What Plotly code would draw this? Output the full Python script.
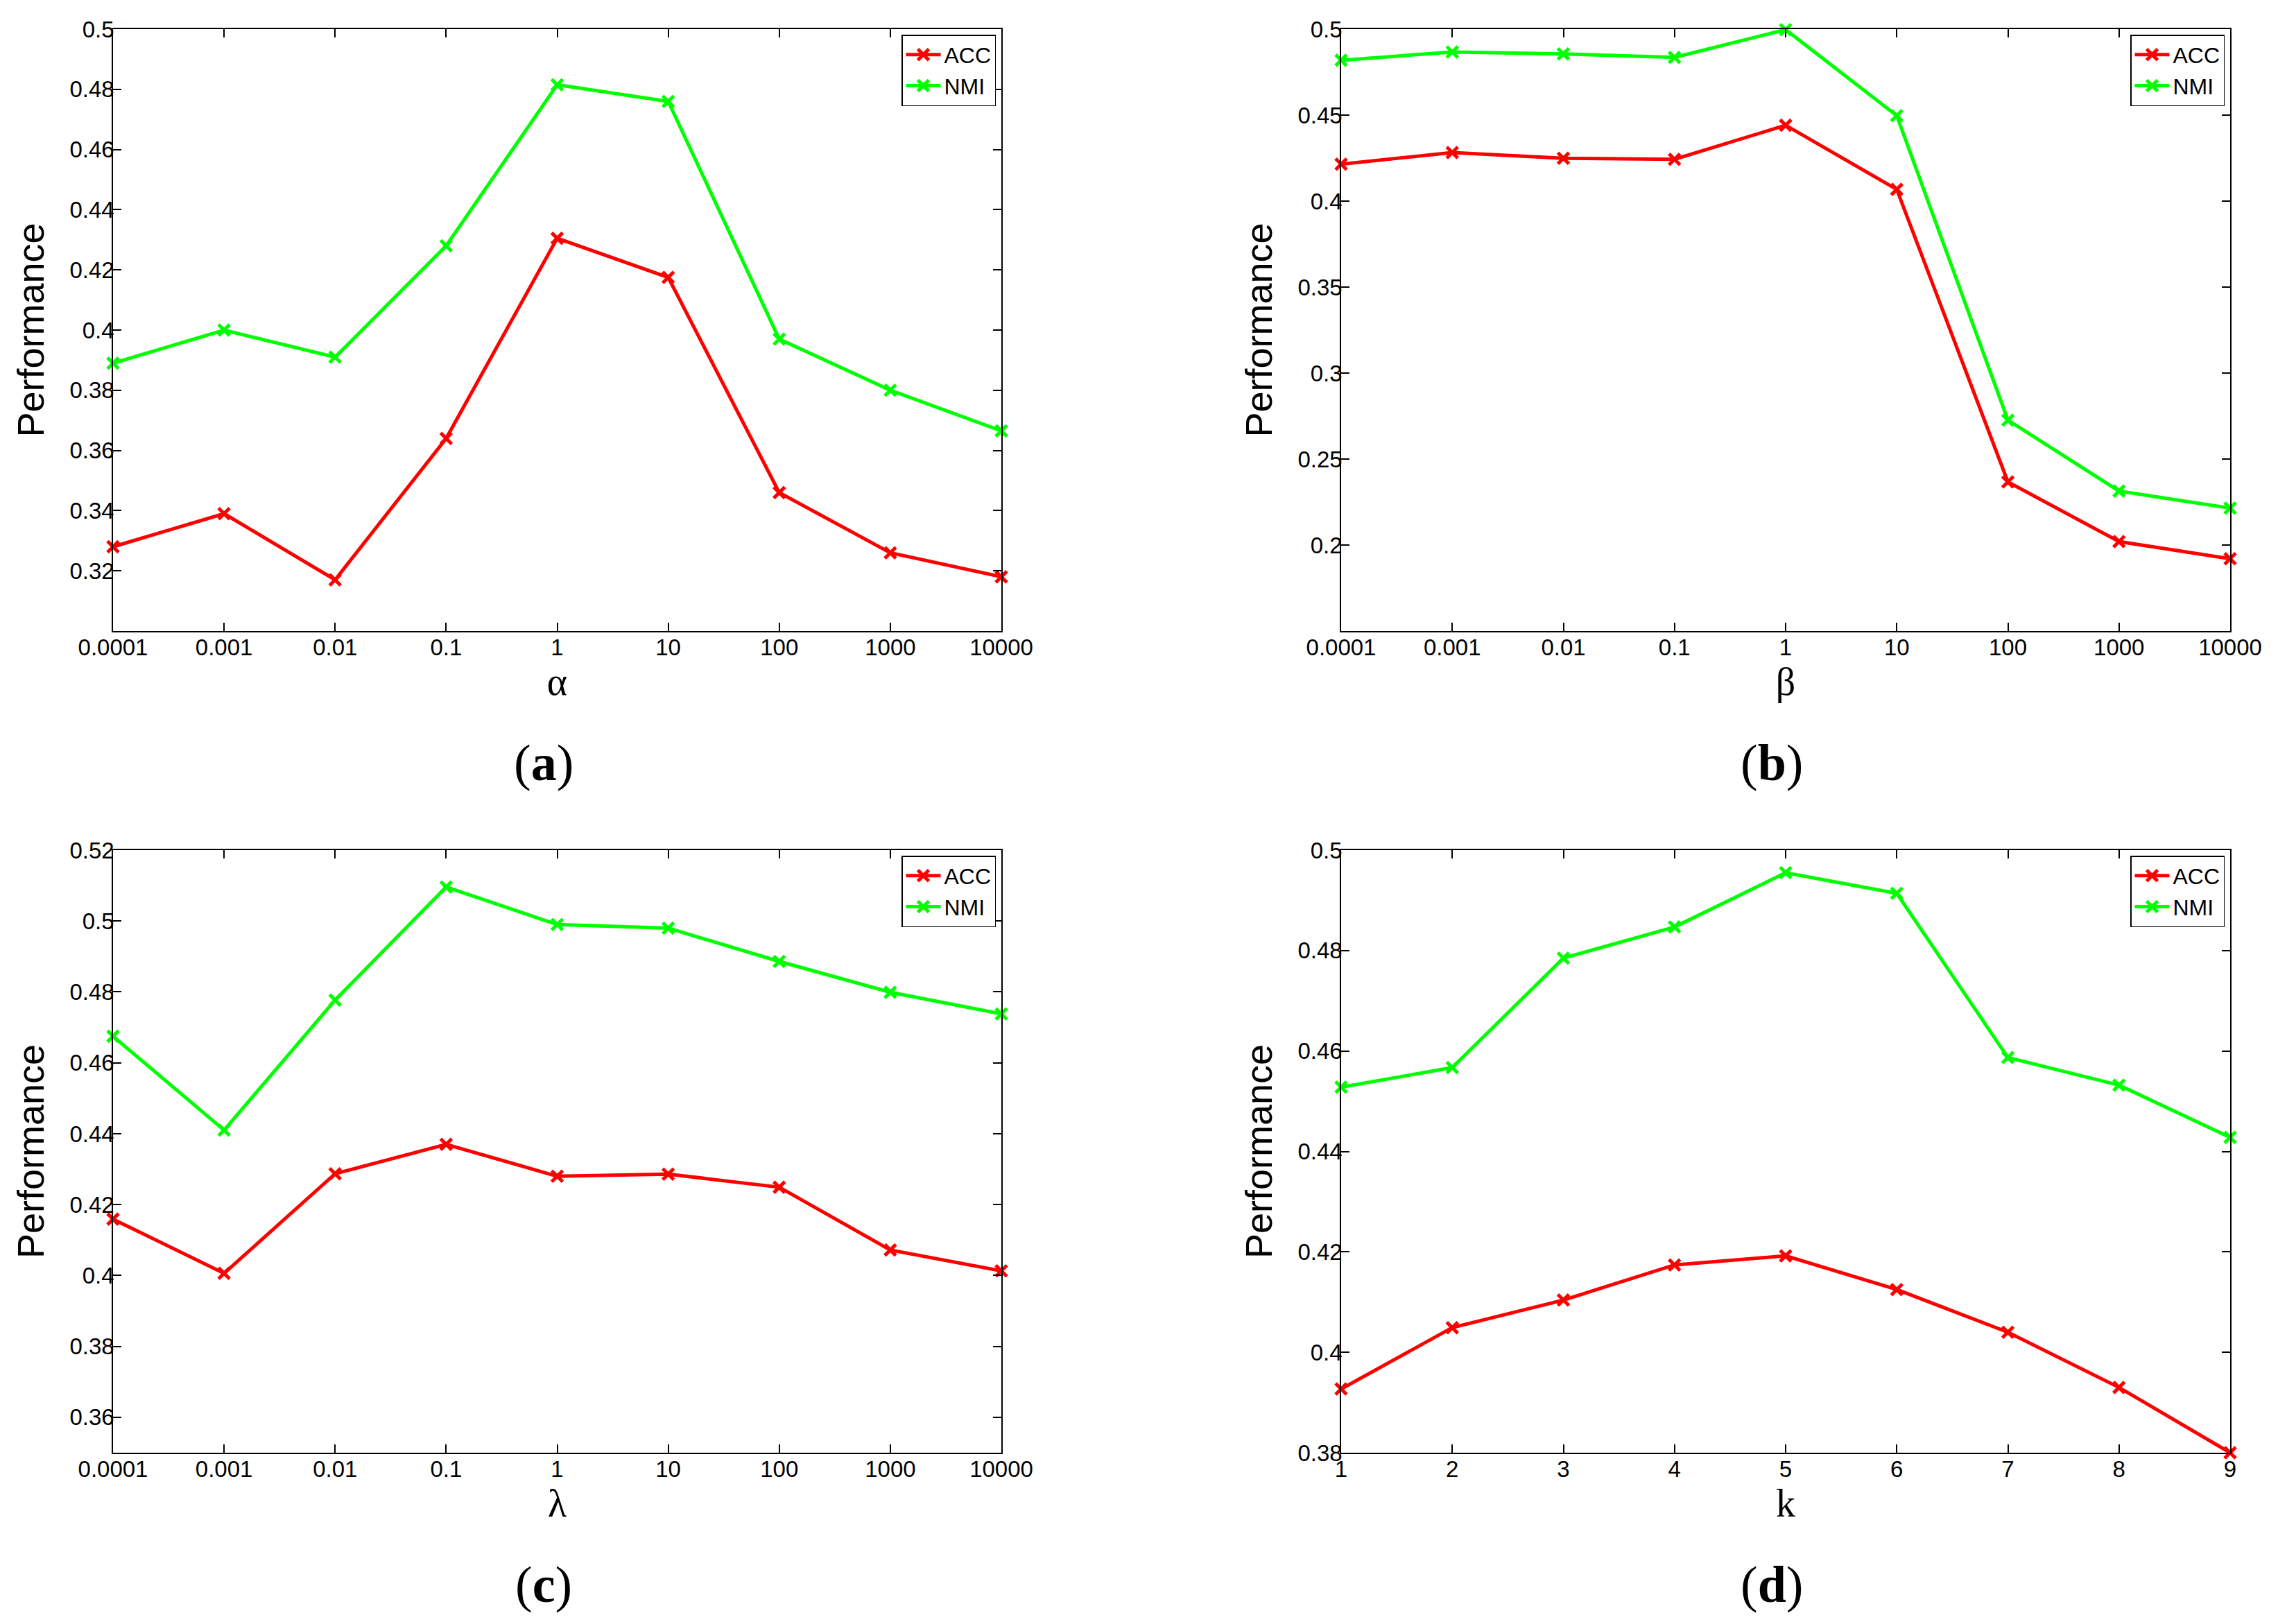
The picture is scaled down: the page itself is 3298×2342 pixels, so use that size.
import plotly.graph_objects as go

# shared x categories for the first three panels
log_params = ["0.0001", "0.001", "0.01", "0.1", "1", "10", "100", "1000", "10000"]
k_values = [1, 2, 3, 4, 5, 6, 7, 8, 9]

# (a) alpha
alpha_acc = [0.328, 0.339, 0.317, 0.364, 0.4305, 0.4175, 0.346, 0.326, 0.318]
alpha_nmi = [0.389, 0.400, 0.391, 0.428, 0.4815, 0.476, 0.397, 0.380, 0.3665]
# (b) beta
beta_acc = [0.4215, 0.4282, 0.4249, 0.4243, 0.4441, 0.4068, 0.2367, 0.202, 0.192]
beta_nmi = [0.4819, 0.4867, 0.4856, 0.4836, 0.4997, 0.4497, 0.2726, 0.2314, 0.2215]
# (c) lambda
lambda_acc = [0.4159, 0.4006, 0.4287, 0.4370, 0.4280, 0.4286, 0.4249, 0.4072, 0.4013]
lambda_nmi = [0.4675, 0.4410, 0.4777, 0.5096, 0.4990, 0.4980, 0.4886, 0.4799, 0.4738]
# (d) k
k_acc = [0.3927, 0.4049, 0.4104, 0.4174, 0.4192, 0.4125, 0.4040, 0.3930, 0.3800]
k_nmi = [0.4528, 0.4567, 0.4785, 0.4847, 0.4955, 0.4914, 0.4587, 0.4532, 0.4428]

yticks_a = [0.32, 0.34, 0.36, 0.38, 0.40, 0.42, 0.44, 0.46, 0.48, 0.50]
yticks_b = [0.20, 0.25, 0.30, 0.35, 0.40, 0.45, 0.50]
yticks_c = [0.36, 0.38, 0.40, 0.42, 0.44, 0.46, 0.48, 0.50, 0.52]
yticks_d = [0.38, 0.40, 0.42, 0.44, 0.46, 0.48, 0.50]

W, H = 3298, 2342
OFF = 8  # page body margin
RED = "#ff0000"
GREEN = "#00ff00"

def px_x(p):
    return (p - OFF) / W

def px_y(p):
    return 1 - (p - OFF) / H

panels = [
    # x data, acc, nmi, xlabel, yrange, yticks, subtitle, x px span, y px span
    (log_params, alpha_acc, alpha_nmi, "α", [0.30, 0.50], yticks_a, "a", (163, 1444), (42, 910)),
    (log_params, beta_acc, beta_nmi, "β", [0.15, 0.50], yticks_b, "b", (1934, 3216), (42, 910)),
    (log_params, lambda_acc, lambda_nmi, "λ", [0.35, 0.52], yticks_c, "c", (163, 1444), (1226, 2095)),
    (k_values, k_acc, k_nmi, "k", [0.38, 0.50], yticks_d, "d", (1934, 3216), (1226, 2095)),
]

fig = go.Figure()
annotations = []

for i, (xs, acc, nmi, xlab, yrng, yt, sub, (x0, x1), (y0, y1)) in enumerate(panels):
    n = i + 1
    xa = "x" if n == 1 else f"x{n}"
    ya = "y" if n == 1 else f"y{n}"
    leg = "legend" if n == 1 else f"legend{n}"

    for name, vals, col in [("ACC", acc, RED), ("NMI", nmi, GREEN)]:
        fig.add_trace(go.Scatter(
            x=xs, y=vals, name=name, mode="lines+markers",
            line=dict(color=col, width=5),
            marker=dict(symbol="x-thin", size=16, line=dict(color=col, width=5)),
            xaxis=xa, yaxis=ya, legend=leg, cliponaxis=False,
        ))

    axis_common = dict(
        showgrid=False, zeroline=False, showline=True, linecolor="black",
        linewidth=1.5, mirror="ticks", ticks="inside", ticklen=12,
        tickwidth=1.5, tickcolor="black", automargin=False,
        tickfont=dict(family="Liberation Sans", size=33, color="black"),
    )
    if isinstance(xs[0], str):
        xrange = [0, len(xs) - 1]
        xtype = "category"
    else:
        xrange = [xs[0], xs[-1]]
        xtype = "linear"

    fig.layout[("xaxis" if n == 1 else f"xaxis{n}")] = dict(
        axis_common, domain=[px_x(x0), px_x(x1)], anchor=ya,
        type=xtype, range=xrange, ticklabelstandoff=-6,
        tickmode="array", tickvals=xs, ticktext=[str(v) for v in xs],
        title=dict(text=xlab, standoff=0,
                   font=dict(family="Liberation Serif", size=56, color="black")),
    )
    fig.layout[("yaxis" if n == 1 else f"yaxis{n}")] = dict(
        axis_common, domain=[px_y(y1), px_y(y0)], anchor=xa,
        range=yrng, tickmode="array", tickvals=yt, ticklabelstandoff=-10,
        ticktext=[f"{v:g}" for v in yt],
        title=dict(text="Performance", standoff=20,
                   font=dict(family="Liberation Sans", size=54, color="black")),
    )
    fig.layout[leg] = dict(
        x=px_x(x1 - 8), y=px_y(y0 + 8), xanchor="right", yanchor="top",
        bgcolor="white", bordercolor="black", borderwidth=1.5,
        font=dict(family="Liberation Sans", size=32, color="black"),
        tracegroupgap=0, itemwidth=50,
    )
    annotations.append(dict(
        text=f"(<b>{sub}</b>)", xref="paper", yref="paper",
        x=px_x((x0 + x1) / 2 - 20), y=px_y(y1 + 190),
        xanchor="center", yanchor="middle", showarrow=False,
        font=dict(family="Liberation Serif", size=74, color="black"),
    ))

fig.update_layout(
    template="none",
    width=W, height=H,
    margin=dict(l=0, r=0, t=0, b=0, autoexpand=False),
    paper_bgcolor="white", plot_bgcolor="white",
    annotations=annotations,
    showlegend=True,
)

fig.write_html("out.html")
